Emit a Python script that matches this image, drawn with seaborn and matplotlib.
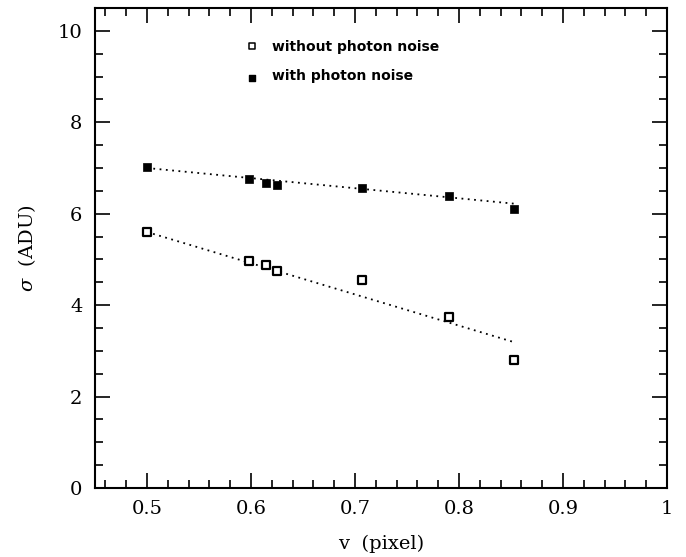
import numpy as np
import pandas as pd
import matplotlib
matplotlib.use("Agg")
import matplotlib.pyplot as plt
from matplotlib.ticker import MultipleLocator
import seaborn as sns

# values
v = [0.500, 0.598, 0.614, 0.625, 0.707, 0.790, 0.853]
sigma_no_photon = [5.61, 4.96, 4.87, 4.74, 4.54, 3.73, 2.79]
sigma_photon = [7.03, 6.75, 6.68, 6.62, 6.57, 6.38, 6.11]

# dotted fit lines (end points)
fit_v = [0.500, 0.853]
fit_no_photon = [5.60, 3.19]
fit_photon = [7.00, 6.22]

sns.set_style("ticks")
plt.rcParams['font.family'] = ['DejaVu Serif']
plt.rcParams['mathtext.fontset'] = 'dejavuserif'
plt.rcParams.update({"text.color": "black", "axes.labelcolor": "black",
                     "xtick.color": "black", "ytick.color": "black",
                     "axes.edgecolor": "black"})

fig = plt.figure(figsize=(6.86, 5.57), dpi=100)
ax = fig.add_axes([0.1385, 0.1239, 0.8338, 0.8617])

df = pd.DataFrame({"v": v, "no": sigma_no_photon, "yes": sigma_photon})
fit = pd.DataFrame({"v": fit_v, "no": fit_no_photon, "yes": fit_photon})

sns.lineplot(data=fit, x="v", y="yes", ax=ax, color="black", linestyle=(0, (1, 2.5)), lw=1.3)
sns.lineplot(data=fit, x="v", y="no", ax=ax, color="black", linestyle=(0, (1, 2.5)), lw=1.3)

sns.scatterplot(data=df, x="v", y="no", ax=ax, marker="s", s=40,
                facecolor="white", edgecolor="black", linewidth=1.6, zorder=3)
sns.scatterplot(data=df, x="v", y="yes", ax=ax, marker="s", s=40,
                color="black", edgecolor="black", zorder=3)

# legend drawn as small markers + bold text
ax.scatter([0.601], [9.67], marker="s", s=14, facecolor="white", edgecolor="black", lw=1.1)
ax.scatter([0.601], [8.98], marker="s", s=14, color="black")
ax.text(0.620, 9.65, "without photon noise", fontsize=10, fontweight="bold",
        family="DejaVu Sans", va="center", color="black")
ax.text(0.620, 9.02, "with photon noise", fontsize=10, fontweight="bold",
        family="DejaVu Sans", va="center", color="black")

ax.set_xlim(0.45, 1.0)
ax.set_ylim(0, 10.5)
ax.xaxis.set_major_locator(MultipleLocator(0.1))
ax.xaxis.set_minor_locator(MultipleLocator(0.02))
ax.yaxis.set_major_locator(MultipleLocator(2))
ax.yaxis.set_minor_locator(MultipleLocator(0.5))
ax.set_xticks([0.5, 0.6, 0.7, 0.8, 0.9, 1.0])
ax.set_xticklabels(["0.5", "0.6", "0.7", "0.8", "0.9", "1"])
ax.tick_params(which="both", direction="in", top=True, right=True, width=1.2,
               labelsize=14, labelcolor="black", color="black")
ax.tick_params(which="major", length=11, pad=9)
ax.tick_params(which="minor", length=6)
for s in ax.spines.values():
    s.set_linewidth(1.5)

ax.set_xlabel("v  (pixel)", fontsize=14, labelpad=12, color="black")
ax.set_ylabel(r"$\sigma$  (ADU)", fontsize=14, labelpad=14, color="black")

fig.savefig("out.png", dpi=100)
